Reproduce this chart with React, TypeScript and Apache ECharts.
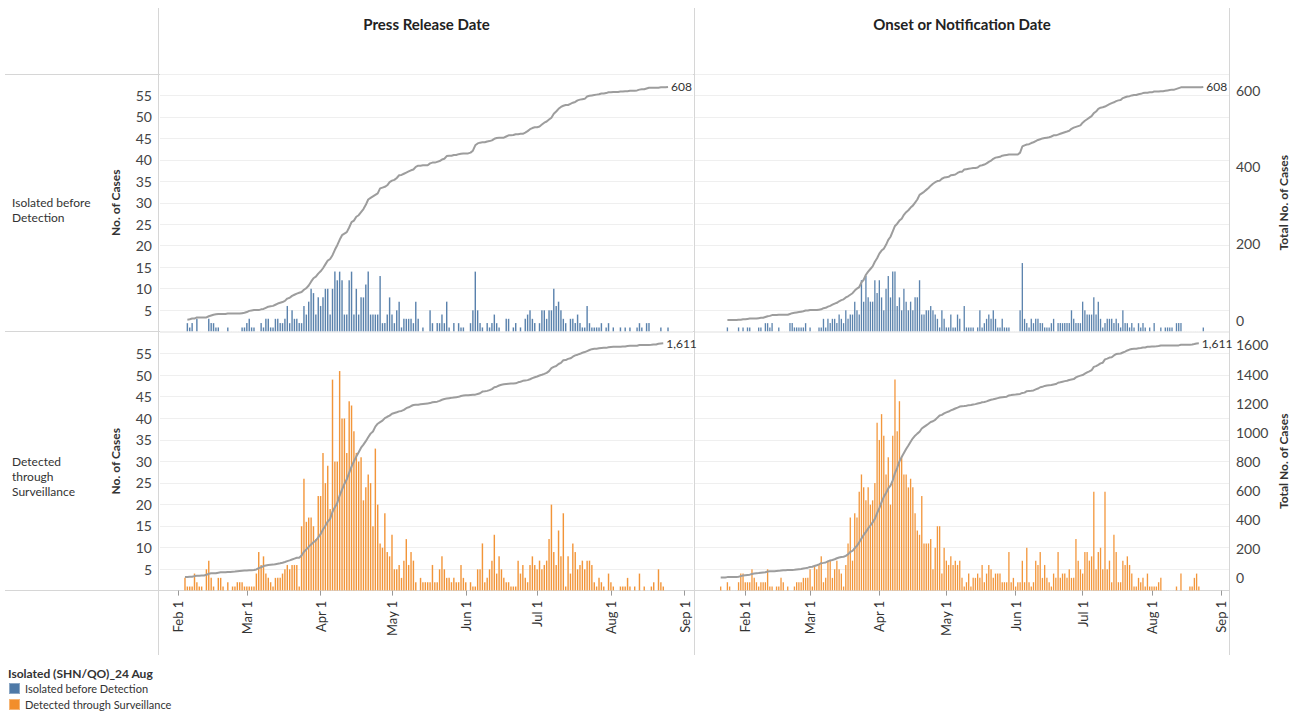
import { useEffect, useRef } from "react";
import * as echarts from "echarts";

const FONT = "Lato, 'Noto Sans', sans-serif";

// ---- daily counts ----
// Press release date, isolated before detection (first value = 2020-02-05)
const pressIsolatedStart = "2020-02-05";
const pressIsolated = [
  2, 1, 2, 0, 3, 0, 0, 0, 0, 3,
  2, 2, 1, 1, 0, 0, 0, 1, 0, 0,
  0, 0, 0, 1, 1, 2, 3, 1, 1, 0,
  0, 2, 1, 3, 3, 1, 1, 3, 3, 2,
  2, 3, 6, 2, 5, 3, 3, 2, 2, 6,
  4, 7, 10, 9, 4, 8, 6, 8, 10, 10,
  4, 10, 14, 12, 14, 12, 4, 4, 12, 14,
  4, 10, 4, 8, 8, 11, 14, 4, 4, 4,
  4, 13, 2, 2, 4, 8, 4, 2, 5, 7,
  1, 3, 3, 3, 3, 2, 7, 3, 0, 1,
  0, 0, 5, 2, 0, 2, 2, 4, 2, 7,
  1, 0, 2, 0, 2, 1, 1, 0, 0, 2,
  5, 14, 5, 2, 1, 0, 2, 1, 2, 4,
  2, 1, 0, 0, 3, 3, 0, 1, 2, 0,
  1, 0, 3, 4, 5, 3, 2, 0, 2, 5,
  5, 3, 5, 5, 10, 6, 7, 5, 3, 2,
  0, 3, 3, 2, 4, 2, 1, 1, 6, 2,
  1, 1, 1, 1, 2, 0, 1, 2, 0, 1,
  0, 0, 1, 0, 1, 0, 1, 0, 0, 1,
  2, 1, 0, 2, 2, 0, 0, 0, 0, 1,
  0, 0, 1,
];

// Press release date, detected through surveillance (first value = 2020-02-04)
const pressSurveillanceStart = "2020-02-04";
const pressSurveillance = [
  3, 1, 1, 1, 4, 2, 1, 1, 0, 5,
  7, 3, 1, 0, 3, 3, 1, 0, 2, 0,
  1, 1, 2, 2, 2, 1, 1, 1, 1, 1,
  4, 9, 6, 8, 4, 3, 2, 1, 3, 3,
  3, 4, 5, 6, 5, 6, 6, 6, 1, 15,
  26, 16, 17, 17, 15, 12, 22, 22, 32, 25,
  29, 19, 49, 30, 30, 51, 40, 40, 32, 44,
  43, 37, 32, 30, 31, 21, 24, 27, 25, 15,
  33, 20, 11, 10, 18, 9, 8, 13, 5, 5,
  6, 3, 7, 12, 6, 9, 7, 2, 0, 3,
  2, 2, 2, 2, 6, 2, 2, 5, 8, 5,
  3, 3, 2, 3, 2, 2, 6, 3, 2, 0,
  2, 1, 1, 5, 5, 11, 2, 3, 5, 7,
  13, 4, 8, 5, 3, 2, 2, 1, 1, 1,
  7, 4, 6, 3, 2, 6, 8, 6, 5, 7,
  5, 6, 7, 12, 20, 9, 6, 14, 8, 18,
  1, 8, 4, 11, 9, 5, 6, 7, 5, 7,
  7, 6, 2, 1, 3, 2, 1, 0, 4, 2,
  1, 0, 0, 1, 1, 1, 3, 1, 0, 1,
  0, 4, 0, 1, 0, 0, 1, 2, 0, 5,
  2, 1,
];

// Onset / notification date, isolated before detection (first value = 2020-01-24)
const onsetIsolatedStart = "2020-01-24";
const onsetIsolated = [
  1, 0, 0, 0, 0, 1, 0, 1, 0, 1,
  1, 0, 0, 0, 1, 1, 0, 2, 2, 1,
  2, 0, 0, 1, 0, 0, 0, 0, 2, 2,
  1, 1, 1, 1, 1, 2, 0, 1, 0, 0,
  0, 1, 1, 3, 1, 3, 2, 3, 3, 2,
  4, 3, 2, 5, 3, 4, 4, 7, 5, 4,
  12, 7, 13, 8, 7, 7, 12, 9, 12, 8,
  5, 10, 13, 8, 14, 14, 6, 8, 5, 10,
  7, 5, 7, 5, 8, 8, 12, 4, 4, 5,
  5, 6, 5, 4, 3, 1, 5, 3, 1, 1,
  4, 1, 1, 4, 3, 0, 6, 1, 1, 1,
  1, 0, 1, 5, 1, 2, 3, 4, 3, 5,
  3, 1, 1, 3, 1, 1, 1, 0, 0, 0,
  0, 5, 16, 3, 2, 1, 3, 2, 3, 3,
  2, 2, 1, 1, 1, 2, 3, 0, 2, 2,
  2, 2, 2, 2, 5, 3, 2, 2, 2, 7,
  5, 4, 4, 4, 8, 4, 7, 3, 1, 2,
  3, 3, 3, 2, 3, 2, 1, 5, 2, 2,
  1, 2, 1, 0, 2, 1, 2, 1, 0, 1,
  0, 2, 0, 0, 1, 0, 1, 1, 1, 1,
  0, 2, 2, 2, 0, 0, 0, 0, 0, 0,
  0, 0, 0, 1,
];

// Onset / notification date, detected through surveillance (first value = 2020-01-21)
const onsetSurveillanceStart = "2020-01-21";
const onsetSurveillance = [
  1, 0, 0, 2, 1, 0, 0, 0, 2, 4, 4,
  2, 2, 2, 5, 3, 2, 1, 2, 2, 2,
  5, 1, 1, 0, 1, 1, 3, 2, 0, 1,
  0, 0, 1, 2, 2, 2, 3, 3, 3, 5,
  1, 6, 5, 6, 8, 2, 3, 7, 7, 3,
  5, 7, 5, 4, 1, 6, 11, 17, 7, 18,
  17, 23, 27, 24, 21, 24, 20, 21, 25, 39,
  35, 41, 36, 27, 31, 20, 36, 49, 37, 44,
  31, 27, 27, 24, 26, 24, 18, 14, 13, 22,
  11, 11, 11, 12, 5, 10, 15, 15, 4, 10,
  7, 6, 8, 6, 7, 6, 7, 3, 1, 2,
  4, 1, 3, 3, 4, 3, 6, 2, 4, 6,
  5, 3, 4, 4, 4, 2, 2, 2, 9, 2,
  3, 1, 2, 2, 7, 2, 10, 2, 1, 2,
  7, 6, 9, 3, 6, 3, 2, 1, 4, 3,
  9, 3, 4, 4, 3, 5, 3, 3, 12, 7,
  5, 4, 9, 9, 7, 8, 23, 5, 9, 10,
  5, 23, 5, 7, 2, 13, 9, 2, 2, 7,
  6, 8, 6, 4, 1, 1, 3, 2, 3, 1,
  4, 1, 1, 1, 1, 2, 3, 0, 0, 0,
  0, 0, 0, 1, 0, 4, 0, 0, 0, 1,
  1, 3, 4, 1,
];

// ---- axes / labels ----
const leftAxisStart = "2020-01-25";
const rightAxisStart = "2020-01-10";
const axisEnd = "2020-09-04";
const totalTicksTop = [0, 200, 400, 600];
const totalTicksBottom = [0, 200, 400, 600, 800, 1000, 1200, 1400, 1600];
const columnTitles = ["Press Release Date", "Onset or Notification Date"];
const rowTitles = ["Isolated before\nDetection", "Detected\nthrough\nSurveillance"];
const seriesNames = ["Isolated before Detection", "Detected through Surveillance"];
const legendTitle = "Isolated (SHN/QO)_24 Aug";
const monthNames = ["Jan", "Feb", "Mar", "Apr", "May", "Jun", "Jul", "Aug", "Sep", "Oct", "Nov", "Dec"];

const BLUE = "#4e79a7";
const ORANGE = "#f28e2b";
const LINE = "#9d9d9d";
const BORDER = "#d6d6d6";
const DAY = 86400000;

function dateList(start: string, end: string): string[] {
  const out: string[] = [];
  for (let t = Date.parse(start); t <= Date.parse(end); t += DAY) {
    out.push(new Date(t).toISOString().slice(0, 10));
  }
  return out;
}
const fmtDate = (s: string) => monthNames[+s.slice(5, 7) - 1] + " " + +s.slice(8, 10);
const isMonthStart = (_i: number, s: string) => s.slice(8, 10) === "01";

function barData(cats: string[], start: string, values: number[]) {
  const off = cats.indexOf(start);
  return cats.map((_, i) => {
    const k = i - off;
    return k >= 0 && k < values.length ? values[k] : null;
  });
}
function cumData(cats: string[], start: string, values: number[]) {
  const off = cats.indexOf(start);
  let run = 0;
  return cats.map((_, i) => {
    const k = i - off;
    if (k < 0 || k >= values.length) return null;
    run += values[k];
    return run;
  });
}

export default function App() {
  const ref = useRef<HTMLDivElement>(null);

  useEffect(() => {
    document.body.style.margin = "0";
    const chart = echarts.init(ref.current!, undefined, { renderer: "svg" });

    const leftCats = dateList(leftAxisStart, axisEnd);
    const rightCats = dateList(rightAxisStart, axisEnd);

    const panels = [
      { row: 0, col: 0, cats: leftCats, start: pressIsolatedStart, values: pressIsolated, color: BLUE, name: seriesNames[0], tmin: -28.7, tmax: 641.7, ticks: totalTicksTop },
      { row: 0, col: 1, cats: rightCats, start: onsetIsolatedStart, values: onsetIsolated, color: BLUE, name: seriesNames[0], tmin: -28.7, tmax: 641.7, ticks: totalTicksTop },
      { row: 1, col: 0, cats: leftCats, start: pressSurveillanceStart, values: pressSurveillance, color: ORANGE, name: seriesNames[1], tmin: -89.7, tmax: 1689, ticks: totalTicksBottom },
      { row: 1, col: 1, cats: rightCats, start: onsetSurveillanceStart, values: onsetSurveillance, color: ORANGE, name: seriesNames[1], tmin: -89.7, tmax: 1689, ticks: totalTicksBottom },
    ];

    const gridPos = (row: number, col: number) => ({
      left: col === 0 ? 160 : 695,
      width: col === 0 ? 533 : 534,
      top: row === 0 ? 74 : 332,
      height: row === 0 ? 257.5 : 258.6,
    });

    const grid = panels.map((p) => gridPos(p.row, p.col));

    const xAxis = panels.map((p, i) => ({
      type: "category",
      gridIndex: i,
      data: p.cats,
      boundaryGap: true,
      axisLine: { show: p.row === 1, lineStyle: { color: BORDER } },
      axisTick: {
        show: p.row === 1,
        interval: isMonthStart,
        alignWithLabel: true,
        length: 5,
        lineStyle: { color: "#999" },
      },
      axisLabel: {
        show: p.row === 1,
        interval: isMonthStart,
        rotate: 90,
        formatter: (v: string) => fmtDate(v),
        fontSize: 13,
        color: "#333",
        fontFamily: FONT,
        margin: 10,
      },
      splitLine: { show: false },
    }));

    const yAxis: any[] = [];
    panels.forEach((p, i) => {
      yAxis.push({
        type: "value",
        gridIndex: i,
        position: "left",
        min: 0,
        max: 60,
        interval: 5,
        name: p.col === 0 ? "No. of Cases" : "",
        nameLocation: "middle",
        nameGap: 39,
        nameTextStyle: { fontWeight: "bold", fontSize: 12, color: "#333", fontFamily: FONT },
        axisLine: { show: false },
        axisTick: { show: false },
        axisLabel: {
          show: p.col === 0,
          showMinLabel: false,
          showMaxLabel: false,
          fontSize: 14,
          color: "#444",
          fontFamily: FONT,
          margin: 8,
        },
        splitLine: { show: true, lineStyle: { color: "#efefef", width: 1 } },
      });
      yAxis.push({
        type: "value",
        gridIndex: i,
        position: "right",
        min: p.tmin,
        max: p.tmax,
        name: p.col === 1 ? "Total No. of Cases" : "",
        nameLocation: "middle",
        nameRotate: 90,
        nameGap: 48,
        nameTextStyle: { fontWeight: "bold", fontSize: 12, color: "#333", fontFamily: FONT },
        axisLine: { show: false },
        axisTick: { show: false, customValues: p.ticks },
        axisLabel: {
          show: p.col === 1,
          customValues: p.ticks,
          formatter: (v: number) => String(v),
          fontSize: 14,
          color: "#444",
          fontFamily: FONT,
          margin: 7,
        },
        splitLine: { show: false },
      });
    });

    const series: any[] = [];
    panels.forEach((p, i) => {
      series.push({
        type: "bar",
        name: p.name,
        xAxisIndex: i,
        yAxisIndex: i * 2,
        data: barData(p.cats, p.start, p.values),
        barCategoryGap: "22%",
        itemStyle: { color: p.color, borderColor: "rgba(255,255,255,0.35)", borderWidth: 0.4 },
        emphasis: { disabled: true },
        z: 2,
      });
    });
    panels.forEach((p, i) => {
      series.push({
        type: "line",
        name: "Total " + i,
        xAxisIndex: i,
        yAxisIndex: i * 2 + 1,
        data: cumData(p.cats, p.start, p.values),
        symbol: "none",
        connectNulls: false,
        lineStyle: { color: LINE, width: 2 },
        itemStyle: { color: LINE },
        endLabel: {
          show: true,
          formatter: (prm: any) => Number(prm.value).toLocaleString("en-US"),
          color: "#333",
          fontSize: 12,
          fontFamily: FONT,
          distance: 3,
        },
        emphasis: { disabled: true },
        z: 5,
      });
    });

    const hLine = (x1: number, x2: number, y: number) => ({
      type: "line",
      shape: { x1, y1: y, x2, y2: y },
      style: { stroke: BORDER, lineWidth: 1 },
      silent: true,
    });
    const vLine = (x: number, y1: number, y2: number) => ({
      type: "line",
      shape: { x1: x, y1, x2: x, y2 },
      style: { stroke: BORDER, lineWidth: 1 },
      silent: true,
    });

    const graphic: any[] = [
      vLine(158.5, 8, 655),
      vLine(694.5, 8, 655),
      vLine(1229.5, 8, 655),
      hLine(5, 1229.5, 74.5),
      hLine(5, 1229.5, 331.5),
      hLine(5, 1229.5, 590.5),
      {
        type: "text",
        x: 426.5,
        y: 24,
        style: { text: columnTitles[0], align: "center", verticalAlign: "middle", fontSize: 15, fontWeight: "bold", fontFamily: FONT, fill: "#222" },
      },
      {
        type: "text",
        x: 962,
        y: 24,
        style: { text: columnTitles[1], align: "center", verticalAlign: "middle", fontSize: 15, fontWeight: "bold", fontFamily: FONT, fill: "#222" },
      },
      {
        type: "text",
        x: 12,
        y: 195,
        style: { text: rowTitles[0], fontSize: 12, lineHeight: 15, fontFamily: FONT, fill: "#333" },
      },
      {
        type: "text",
        x: 12,
        y: 454,
        style: { text: rowTitles[1], fontSize: 12, lineHeight: 15, fontFamily: FONT, fill: "#333" },
      },
      {
        type: "text",
        x: 8,
        y: 667,
        style: { text: legendTitle, fontSize: 12, fontWeight: "bold", fontFamily: FONT, fill: "#333" },
      },
    ];

    chart.setOption({
      animation: false,
      backgroundColor: "#ffffff",
      textStyle: { fontFamily: FONT },
      grid,
      xAxis,
      yAxis,
      series,
      graphic,
      legend: {
        data: seriesNames,
        orient: "vertical",
        left: 8,
        top: 682,
        padding: 0,
        itemWidth: 11,
        itemHeight: 11,
        itemGap: 3,
        icon: "rect",
        selectedMode: false,
        textStyle: { fontSize: 11, lineHeight: 11, color: "#333", fontFamily: FONT },
      },
      tooltip: { show: false },
    });

    return () => chart.dispose();
  }, []);

  return (
    <div
      ref={ref}
      style={{ position: "fixed", left: 0, top: 0, width: 1290, height: 713, background: "#fff" }}
    />
  );
}
